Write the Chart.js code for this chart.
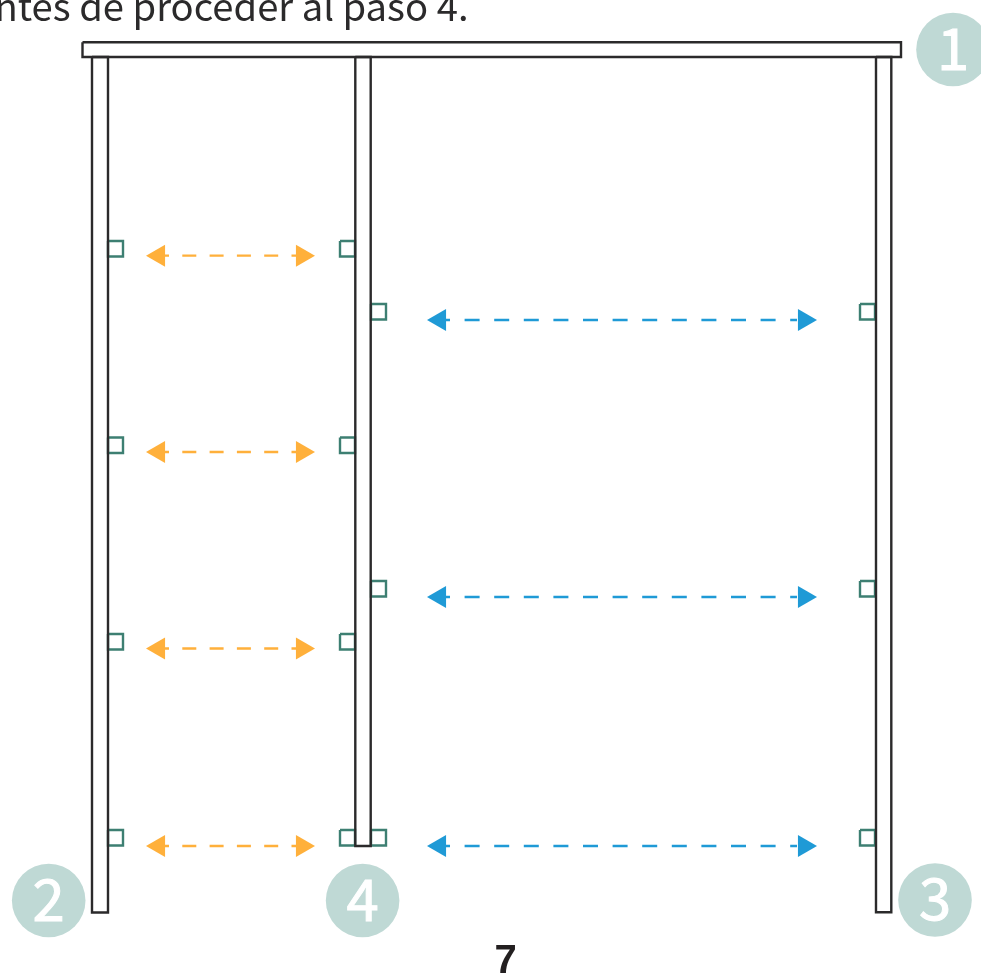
<!DOCTYPE html>
<html>
<head>
<meta charset="utf-8">
<style>
  html, body { margin: 0; padding: 0; background: #fff; overflow: hidden; }
  canvas { display: block; }
</style>
<script src="https://cdn.jsdelivr.net/npm/chart.js@4"></script>
</head>
<body>
<canvas id="diagram" width="981" height="973"></canvas>
<script>
// frame, in picture units
var beamX = [82.5, 901];
var beamY = [42.3, 57];
var postTop = 57;
var leftPostX = [92, 108];
var leftPostBottom = 912.5;
var midPostX = [355.3, 370.7];
var midPostBottom = 846;
var rightPostX = [876, 891.3];
var rightPostBottom = 912.3;

// brackets
var orangeBracketTops = [241, 437.5, 634, 830];
var blueBracketTops = [304, 581, 830];
var bracketLeftColX = [108, 123];
var bracketMidLeftX = [340, 355];
var bracketMidRightX = [371, 386];
var bracketRightColX = [860, 875];
var bracketSize = 15.5;

// spacing arrows
var orangeRows = [255.7, 452, 648.5, 846];
var orangeLineX = [165, 296];
var orangeHeadX = [158.7, 302.3];
var blueRows = [320, 597, 846];
var blueLineX = [446, 797];
var blueHeadX = [439.7, 804.3];

// numbered badges
var badgeLabels = ['1', '2', '3', '4'];
var badgeX = [953, 48.7, 935, 362.6];
var badgeY = [49.5, 900.5, 900, 900.5];

var INK = '#2b2a2b';
var TEAL = '#3d7f72';
var ORANGE = '#ffb03b';
var BLUE = '#1f9ad6';
var BADGE = '#bfd9d5';

function box(xs, y0, y1, color) {
    return {
        type: 'line',
        data: [
            { x: xs[0], y: y0 }, { x: xs[1], y: y0 },
            { x: xs[1], y: y1 }, { x: xs[0], y: y1 }, { x: xs[0], y: y0 }
        ],
        borderColor: color,
        borderWidth: 2.4,
        borderJoinStyle: 'miter',
        pointRadius: 0,
        fill: false,
        tension: 0
    };
}

function dashed(xs, y, color, dash, offset) {
    return {
        type: 'line',
        data: [{ x: xs[0], y: y }, { x: xs[1], y: y }],
        borderColor: color,
        borderWidth: 2.3,
        borderDash: dash,
        borderDashOffset: offset,
        pointRadius: 0,
        fill: false
    };
}

function heads(xs, y, color) {
    return {
        type: 'scatter',
        data: [{ x: xs[0], y: y }, { x: xs[1], y: y }],
        pointStyle: 'triangle',
        pointRadius: 12.7,
        pointRotation: [-90, 90],
        pointBackgroundColor: color,
        pointBorderWidth: 0,
        showLine: false
    };
}

var datasets = [];

// first dataset ends up on top
datasets.push(box(beamX, beamY[0], beamY[1], INK));
datasets.push(box(leftPostX, postTop, leftPostBottom, INK));
datasets.push(box(midPostX, postTop, midPostBottom, INK));
datasets.push(box(rightPostX, postTop, rightPostBottom, INK));

orangeBracketTops.forEach(function (top) {
    datasets.push(box(bracketLeftColX, top, top + bracketSize, TEAL));
    datasets.push(box(bracketMidLeftX, top, top + bracketSize, TEAL));
});
blueBracketTops.forEach(function (top) {
    datasets.push(box(bracketMidRightX, top, top + bracketSize, TEAL));
    datasets.push(box(bracketRightColX, top, top + bracketSize, TEAL));
});

orangeRows.forEach(function (y) {
    datasets.push(heads(orangeHeadX, y, ORANGE));
    datasets.push(dashed(orangeLineX, y, ORANGE, [14, 13.3], 10));
});
blueRows.forEach(function (y) {
    datasets.push(heads(blueHeadX, y, BLUE));
    datasets.push(dashed(blueLineX, y, BLUE, [15, 14.6], 11));
});

datasets.push({
    type: 'scatter',
    data: badgeX.map(function (x, i) { return { x: x, y: badgeY[i] }; }),
    pointStyle: 'circle',
    pointRadius: 36.8,
    pointBackgroundColor: BADGE,
    pointBorderWidth: 0,
    showLine: false
});

var textPlugin = {
    id: 'pageText',
    afterDatasetsDraw: function (chart) {
        var c = chart.ctx, sx = chart.scales.x, sy = chart.scales.y;
        c.save();
        c.textBaseline = 'alphabetic';

        c.fillStyle = INK;
        c.textAlign = 'right';
        c.font = '38.2px "Noto Sans CJK JP"';
        c.fillText('antes de proceder al paso 4.', sx.getPixelForValue(468.5), sy.getPixelForValue(21));

        c.fillStyle = '#231f20';
        c.textAlign = 'center';
        c.font = 'bold 40px "Liberation Sans"';
        c.fillText('7', sx.getPixelForValue(505.5), sy.getPixelForValue(973));

        c.fillStyle = '#fff';
        c.strokeStyle = '#fff';
        c.lineWidth = 1;
        c.font = '58px "Noto Sans CJK JP"';
        badgeLabels.forEach(function (label, i) {
            var px = sx.getPixelForValue(badgeX[i]);
            var py = sy.getPixelForValue(badgeY[i] + 20);
            c.fillText(label, px, py);
            c.strokeText(label, px, py);
        });
        c.restore();
    }
};

new Chart(document.getElementById('diagram').getContext('2d'), {
    type: 'scatter',
    data: { datasets: datasets },
    plugins: [textPlugin],
    options: {
        responsive: false,
        animation: false,
        events: [],
        layout: { padding: 0, autoPadding: false },
        plugins: { legend: { display: false }, tooltip: { enabled: false } },
        scales: {
            x: { type: 'linear', min: 0, max: 981, display: false },
            y: { type: 'linear', min: 0, max: 973, reverse: true, display: false }
        }
    }
});
</script>
</body>
</html>
